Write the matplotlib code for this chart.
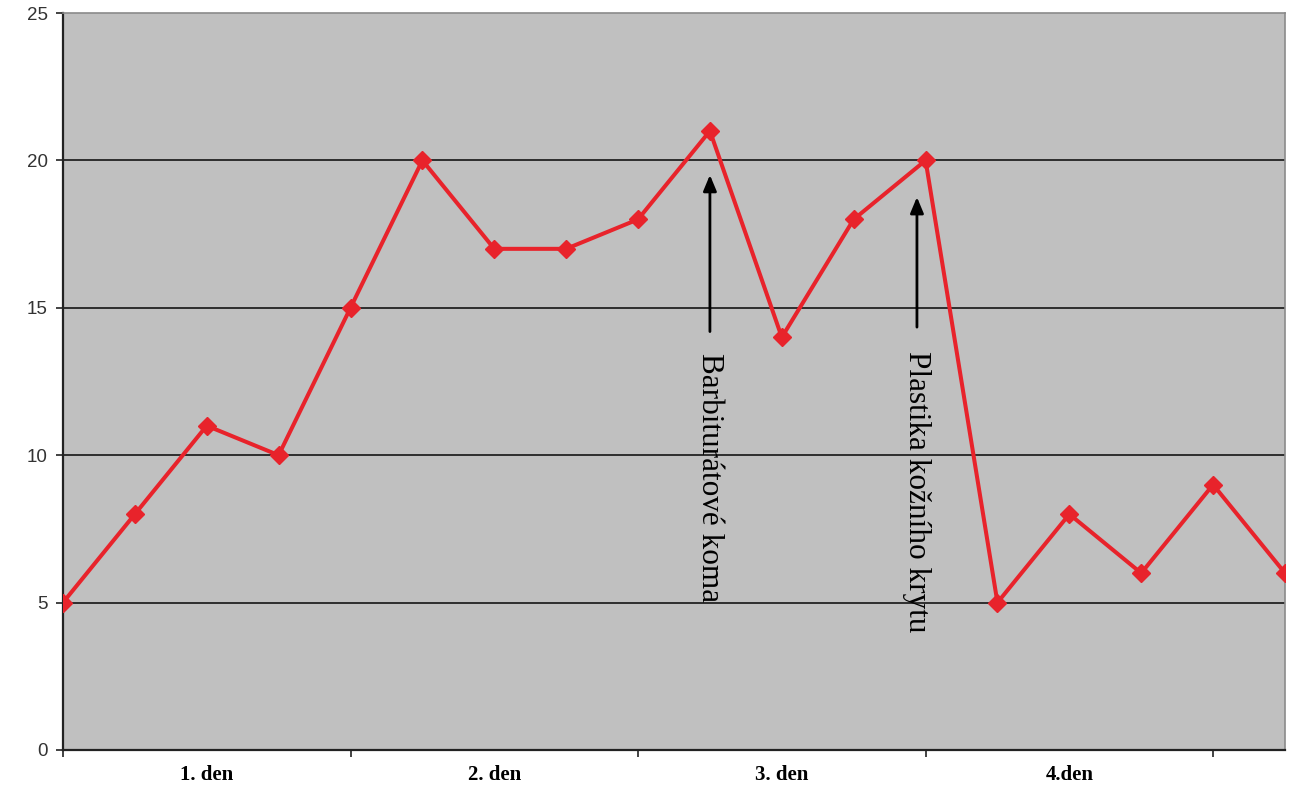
import numpy as np
import matplotlib
matplotlib.use("Agg")
import matplotlib.pyplot as plt

# values
values = [5, 8, 11, 10, 15, 20, 17, 17, 18, 21, 14, 18, 20, 5, 8, 6, 9, 6]
day_labels = ["1. den", "2. den", "3. den", "4.den"]
y_ticks = [0, 5, 10, 15, 20, 25]
notes = ["Barbiturátové koma", "Plastika kožního krytu"]
note_x = [9.0, 11.88]
note_arrow = [(19.6, 14.1), (18.85, 14.25)]
note_text_y = [13.45, 13.55]

red = "#e8232b"

fig = plt.figure(figsize=(13.01, 8.0), dpi=100)
ax = fig.add_axes([0.0484, 0.0625, 0.9393, 0.92125])
ax.set_facecolor("#c0c0c0")

x = np.arange(len(values))
ax.plot(x, values, color=red, lw=2.9, marker="D", ms=9.5, mec=red, mfc=red, zorder=3)

ax.set_xlim(0, len(values) - 1)
ax.set_ylim(0, 25)

# gridlines
for y in y_ticks[1:-1]:
    ax.axhline(y, color="#222222", lw=1.3, zorder=1)

ax.set_yticks(y_ticks)
ax.set_yticklabels([str(v) for v in y_ticks], fontsize=13.5, color="#333333",
                   family="Liberation Sans")
ax.tick_params(axis="y", length=5, width=1.2, color="#222222", pad=6)

# day boundaries as major ticks, labels in between as minor ticks
ax.set_xticks(np.arange(0, len(values), 4))
ax.set_xticklabels([])
ax.set_xticks(np.arange(2, 16, 4), minor=True)
ax.set_xticklabels(day_labels, minor=True, fontsize=15, fontweight="bold",
                   family="Liberation Serif")
ax.tick_params(axis="x", which="major", length=5, width=1.2, color="#222222")
ax.tick_params(axis="x", which="minor", length=0, pad=11)

for side in ["left", "bottom"]:
    ax.spines[side].set_color("#222222")
    ax.spines[side].set_linewidth(1.6)
for side in ["top", "right"]:
    ax.spines[side].set_color("#8a8a8a")
    ax.spines[side].set_linewidth(1.2)

for name, nx, (tip, tail), ty in zip(notes, note_x, note_arrow, note_text_y):
    ax.annotate("", xy=(nx, tip), xytext=(nx, tail),
                arrowprops=dict(arrowstyle="-|>,head_length=0.6,head_width=0.25",
                                color="black", lw=2, mutation_scale=16), zorder=4)
    ax.text(nx, ty, name, rotation=270, ha="center", va="top", fontsize=22.5,
            family="Liberation Serif", color="black", zorder=4)

fig.savefig("out.png", dpi=100)
